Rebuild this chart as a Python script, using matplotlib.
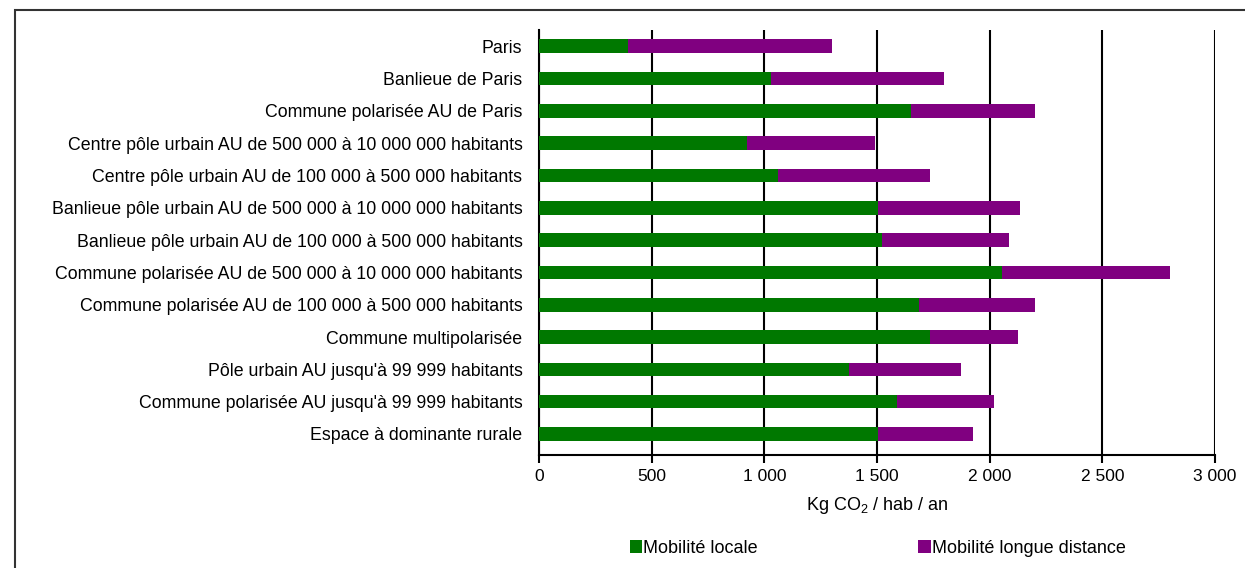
import matplotlib.pyplot as plt
import numpy as np
from matplotlib.patches import Rectangle

plt.rcParams['font.family'] = ['Liberation Sans', 'DejaVu Sans']
plt.rcParams['mathtext.default'] = 'regular'

# Data (kg CO2 / hab / an)
categories = [
    "Paris",
    "Banlieue de Paris",
    "Commune polarisée AU de Paris",
    "Centre pôle urbain AU de 500 000 à 10 000 000 habitants",
    "Centre pôle urbain AU de 100 000 à 500 000 habitants",
    "Banlieue pôle urbain AU de 500 000 à 10 000 000 habitants",
    "Banlieue pôle urbain AU de 100 000 à 500 000 habitants",
    "Commune polarisée AU de 500 000 à 10 000 000 habitants",
    "Commune polarisée AU de 100 000 à 500 000 habitants",
    "Commune multipolarisée",
    "Pôle urbain AU jusqu'à 99 999 habitants",
    "Commune polarisée AU jusqu'à 99 999 habitants",
    "Espace à dominante rurale",
]
mobilite_locale = [395, 1028, 1652, 922, 1060, 1505, 1523, 2055, 1684, 1735, 1376, 1589, 1504]
mobilite_longue = [905, 768, 548, 570, 674, 631, 562, 745, 516, 390, 497, 431, 422]
legend_labels = ["Mobilité locale", "Mobilité longue distance"]
xticks = [0, 500, 1000, 1500, 2000, 2500, 3000]
xtick_labels = ["0", "500", "1 000", "1 500", "2 000", "2 500", "3 000"]

fig = plt.figure(figsize=(12.45, 5.68), dpi=100)
ax = fig.add_axes([0.433, 0.199, 0.543, 0.748])

y = np.arange(len(categories))[::-1]
ax.barh(y, mobilite_locale, height=0.42, color="#007800", label=legend_labels[0], zorder=3)
ax.barh(y, mobilite_longue, left=mobilite_locale, height=0.42, color="#800080",
        label=legend_labels[1], zorder=3)

ax.set_xlim(0, 3000)
ax.set_ylim(-0.65, 12.5)
ax.set_yticks(y)
ax.set_yticklabels(categories, fontsize=12.8)
ax.tick_params(axis="y", length=0, pad=12)
ax.set_xticks(xticks)
ax.set_xticklabels(xtick_labels, fontsize=12.5)
ax.tick_params(axis="x", length=6, width=1.5, direction="out", pad=4)
ax.xaxis.grid(True, color="black", linewidth=1.5, zorder=0)
for s in ["top", "right"]:
    ax.spines[s].set_visible(False)
ax.spines["left"].set_linewidth(1.5)
ax.spines["bottom"].set_linewidth(1.5)
ax.set_xlabel("Kg CO$_2$ / hab / an", fontsize=13, labelpad=8)

fig.legend(loc="center", bbox_to_anchor=(0.705, 0.035), ncol=2, frameon=False,
           fontsize=13, handlelength=0.7, handleheight=0.7, handletextpad=0.05,
           columnspacing=8.9)

fig.patches.append(Rectangle((15 / 1245, -0.1), 1.1, 1.1 - 10 / 568,
                             transform=fig.transFigure, fill=False,
                             edgecolor="#333333", linewidth=1.5))

fig.savefig("out.png", dpi=100)
